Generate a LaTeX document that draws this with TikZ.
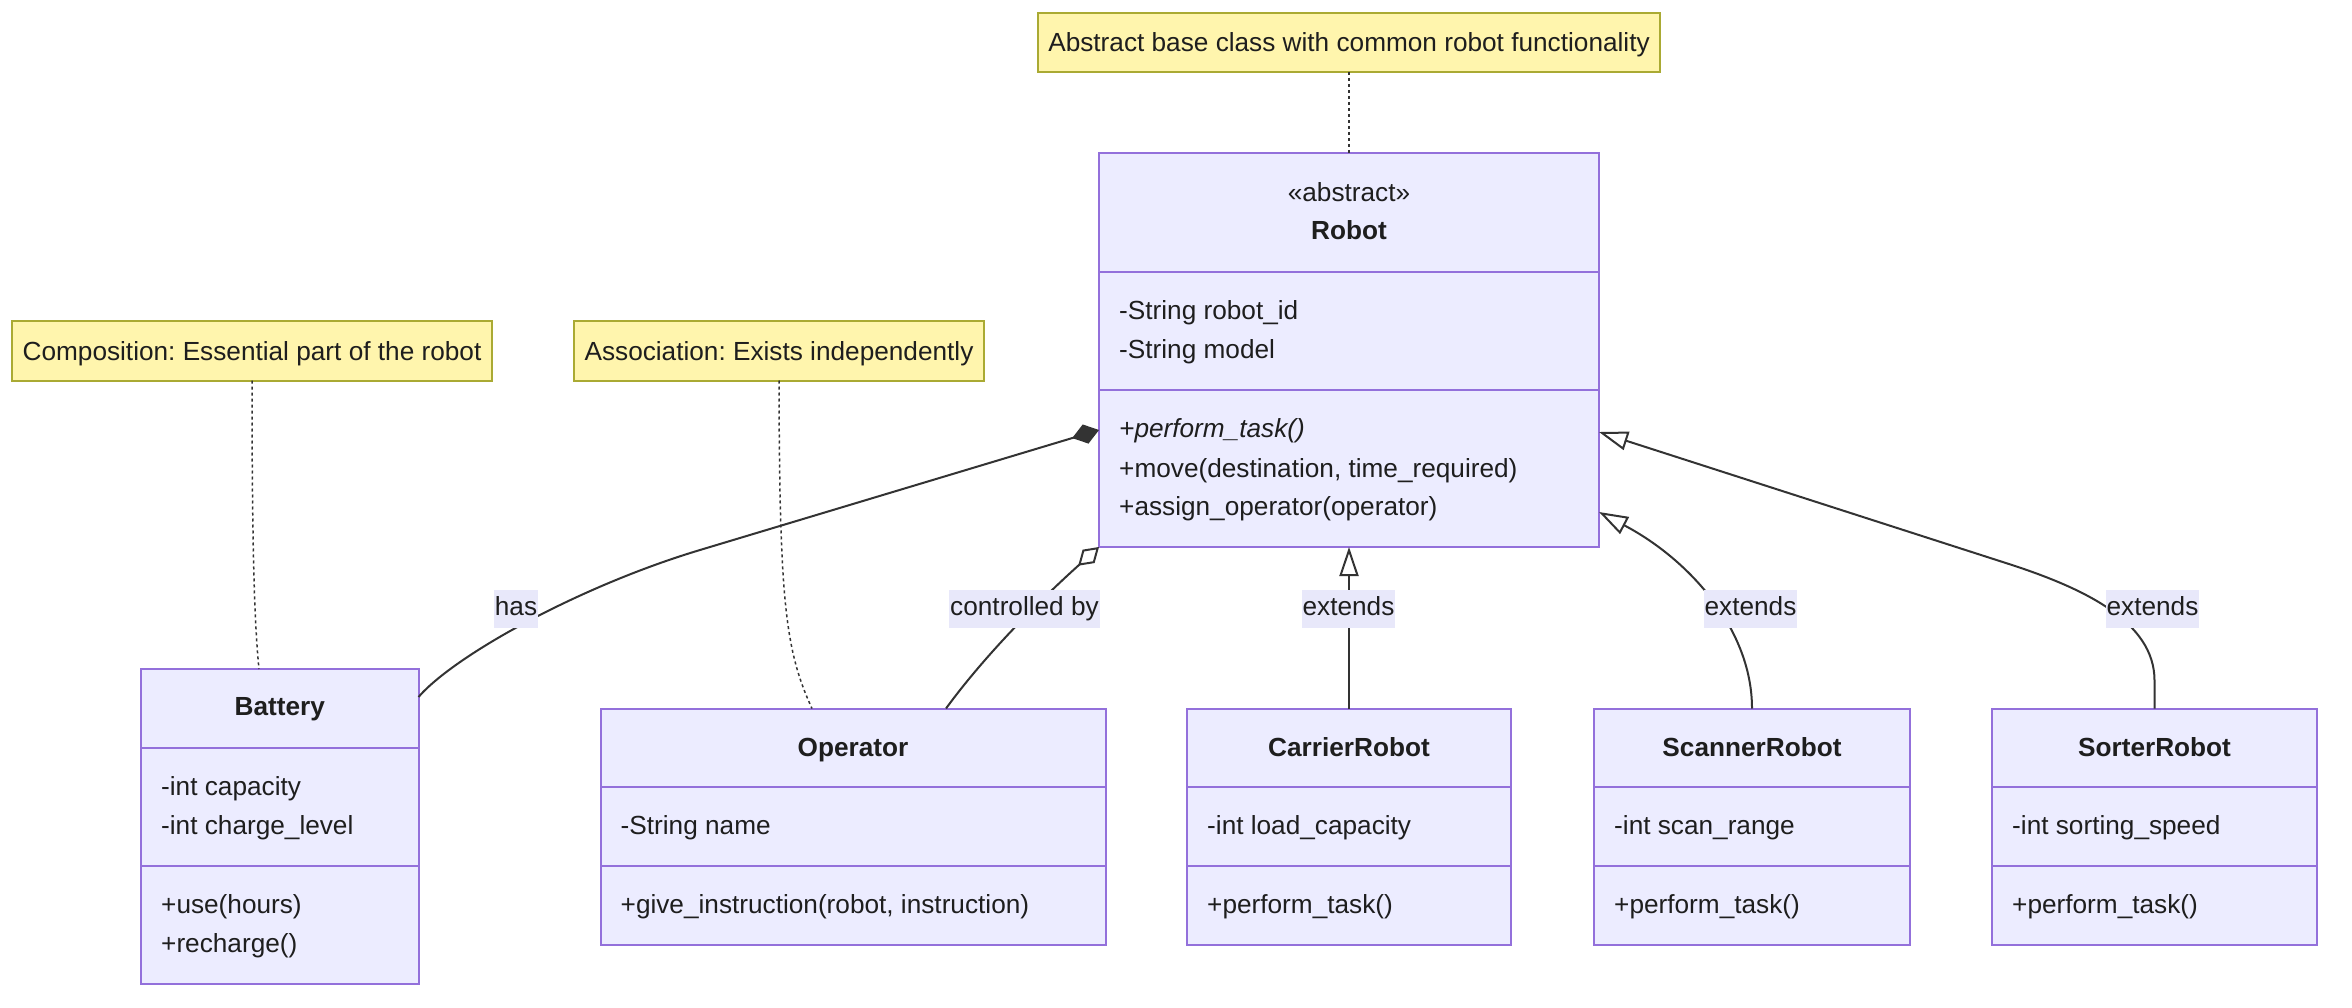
\documentclass[tikz,border=0pt]{standalone}
\usepackage{fontspec}
\setmainfont{Liberation Sans}
\usetikzlibrary{arrows.meta,calc}
\definecolor{classfill}{HTML}{ECECFF}
\definecolor{classline}{HTML}{9370DB}
\definecolor{notefill}{HTML}{FFF5AD}
\definecolor{noteline}{HTML}{AAAA33}
\definecolor{edgec}{HTML}{333333}
\definecolor{lblbg}{HTML}{E8E8FA}
\definecolor{txt}{HTML}{1E1E1E}
\frenchspacing
\begin{document}
\begin{tikzpicture}[x=1pt,y=-1pt,
  every node/.style={font=\fontsize{26.2pt}{39pt}\selectfont, text=txt},
  classbox/.style={draw=classline, fill=classfill, line width=2pt, anchor=north west, inner sep=0pt, outer sep=0pt},
  divider/.style={draw=classline, line width=2pt},
  notebox/.style={draw=noteline, fill=notefill, line width=2pt, anchor=north west, inner sep=0pt, outer sep=0pt},
  member/.style={anchor=base west, inner sep=0pt},
  ctext/.style={anchor=base, inner sep=0pt},
  titletext/.style={anchor=base, inner sep=0pt, font=\fontsize{26.2pt}{39pt}\selectfont\bfseries},
  edge/.style={draw=edgec, line width=2pt},
  notelink/.style={draw=edgec, line width=1.5pt, dash pattern=on 3pt off 3pt},
  elabel/.style={fill=lblbg, inner xsep=1pt, inner ysep=0pt, text height=20pt, text depth=7pt, minimum height=38pt},
  inh/.style={-{Triangle[length=29pt,width=19pt,fill=white]}},
  compo/.style={-{Diamond[length=28pt,width=20pt,fill=edgec]}},
  aggr/.style={-{Diamond[length=28pt,width=18pt,fill=white]}}
]
\useasboundingbox (0,0) rectangle (2352,1008);

% ---------- notes ----------
\node[notebox, minimum width=622pt, minimum height=59pt] (noteA) at (1038,13) {};
\node[ctext] (noteAtxt) at ($(noteA.center)+(0,9.5)$) {Abstract base class with common robot functionality};
\node[notebox, minimum width=480pt, minimum height=60pt] (noteC) at (12,320.5) {};
\node[ctext] (noteCtxt) at ($(noteC.center)+(0,9.5)$) {Composition: Essential part of the robot};
\node[notebox, minimum width=410pt, minimum height=60pt] (noteS) at (574,320.5) {};
\node[ctext] (noteStxt) at ($(noteS.center)+(0,9.5)$) {Association: Exists independently};

% ---------- Robot ----------
\node[classbox, minimum width=500pt, minimum height=394pt] (robot) at (1099,153) {};
\draw[divider] (1099,272) -- (1599,272);
\draw[divider] (1099,390) -- (1599,390);
\node[ctext] (robotst) at (1349,202) {«abstract»};
\node[titletext] (robottt) at (1349,239.5) {Robot};
\node[member] (robota1) at (1119,319.5) {-String robot\_id};
\node[member] (robota2) at (1119,358.5) {-String model};
\node[member] (robotm1) at (1119,437.5) {\itshape +perform\_task()};
\node[member] (robotm2) at (1119,477.5) {+move(destination, time\_required)};
\node[member] (robotm3) at (1119,515.5) {+assign\_operator(operator)};

% ---------- Battery ----------
\node[classbox, minimum width=277.5pt, minimum height=315pt] (battery) at (141,669) {};
\draw[divider] (141,748) -- (418.5,748);
\draw[divider] (141,865.5) -- (418.5,865.5);
\node[titletext] (batteryt) at (279.75,715.5) {Battery};
\node[member] (batterya1) at (161,795.5) {-int capacity};
\node[member] (batterya2) at (161,834.5) {-int charge\_level};
\node[member] (batterym1) at (161,913.5) {+use(hours)};
\node[member] (batterym2) at (161,952.5) {+recharge()};

% ---------- Operator ----------
\node[classbox, minimum width=505pt, minimum height=236.5pt] (operator) at (600.5,708.5) {};
\draw[divider] (600.5,787) -- (1105.5,787);
\draw[divider] (600.5,866) -- (1105.5,866);
\node[titletext] (operatort) at (853,756.5) {Operator};
\node[member] (operatora1) at (620.5,834.5) {-String name};
\node[member] (operatorm1) at (620.5,913.5) {+give\_instruction(robot, instruction)};

% ---------- CarrierRobot ----------
\node[classbox, minimum width=324pt, minimum height=236.5pt] (carrier) at (1187,708.5) {};
\draw[divider] (1187,787) -- (1511,787);
\draw[divider] (1187,866) -- (1511,866);
\node[titletext] (carriert) at (1349,756.5) {CarrierRobot};
\node[member] (carriera1) at (1207,834.5) {-int load\_capacity};
\node[member] (carrierm1) at (1207,913.5) {+perform\_task()};

% ---------- ScannerRobot ----------
\node[classbox, minimum width=316pt, minimum height=236.5pt] (scanner) at (1594,708.5) {};
\draw[divider] (1594,787) -- (1910,787);
\draw[divider] (1594,866) -- (1910,866);
\node[titletext] (scannert) at (1752,756.5) {ScannerRobot};
\node[member] (scannera1) at (1614,834.5) {-int scan\_range};
\node[member] (scannerm1) at (1614,913.5) {+perform\_task()};

% ---------- SorterRobot ----------
\node[classbox, minimum width=325pt, minimum height=236.5pt] (sorter) at (1992,708.5) {};
\draw[divider] (1992,787) -- (2317,787);
\draw[divider] (1992,866) -- (2317,866);
\node[titletext] (sortert) at (2154.5,756.5) {SorterRobot};
\node[member] (sortera1) at (2012,834.5) {-int sorting\_speed};
\node[member] (sorterm1) at (2012,913.5) {+perform\_task()};

% ---------- note links ----------
\draw[notelink] (noteA.south) -- (robot.north);
\draw[notelink] (noteC.south) .. controls (252,560) and (255,630) .. (259,0 |- battery.north);
\draw[notelink] (noteS.south) .. controls (779.5,600) and (785,650) .. (812,0 |- operator.north);

% ---------- relations ----------
\draw[edge, compo] ($(battery.north east)+(0,28)$) .. controls (455,655) and (580,586) .. (700,550) -- (robot.west |- 0,430);
\draw[edge, aggr] (946,0 |- operator.north) .. controls (985,655) and (1040,600) .. (robot.south west);
\draw[edge, inh] (carrier.north) -- (carrier.north |- robot.south);
\draw[edge, inh] (scanner.north) .. controls (1752,630) and (1690,560) .. (robot.east |- 0,512);
\draw[edge, inh] (sorter.north) -- ++(0,-28) .. controls (2154.5,621) and (2082,588) .. (2012,565) -- (robot.east |- 0,432);

% ---------- edge labels ----------
\node[elabel] (lhas) at (516,608.5) {has};
\node[elabel] (lctl) at (1024.5,608.5) {controlled by};
\node[elabel] (lext1) at (1348.5,608.5) {extends};
\node[elabel] (lext2) at (1750.5,608.5) {extends};
\node[elabel] (lext3) at (2152.5,608.5) {extends};
\end{tikzpicture}
\end{document}
